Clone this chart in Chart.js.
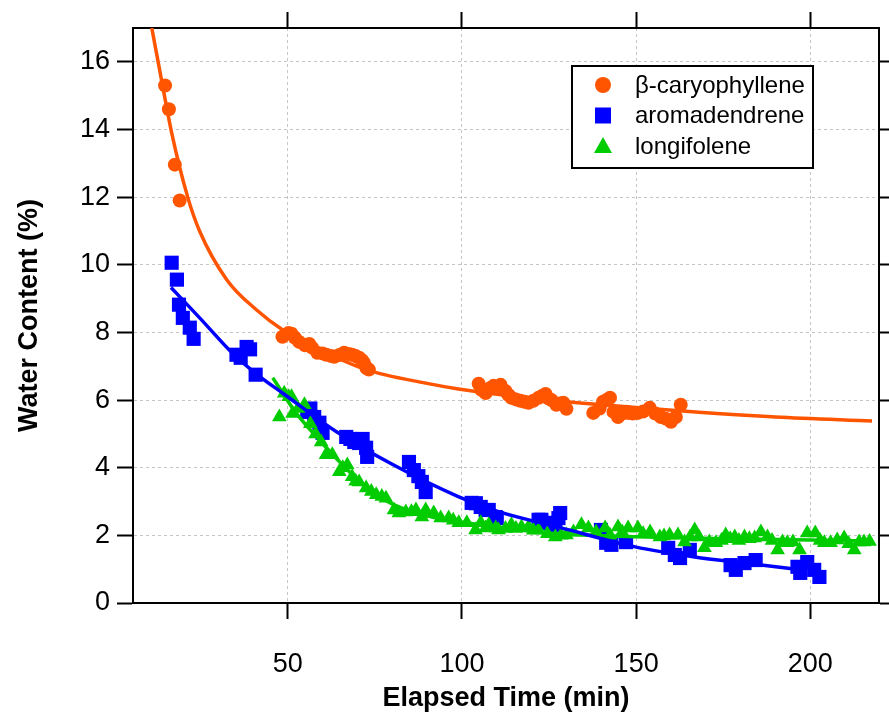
<!DOCTYPE html>
<html>
<head>
<meta charset="utf-8">
<script src="https://cdn.jsdelivr.net/npm/chart.js@4.4.1/dist/chart.umd.min.js"></script>
<style>
  html, body { margin: 0; padding: 0; background: #fff; overflow: hidden; }
  #wrap { width: 889px; height: 715px; position: relative; }
</style>
</head>
<body>
<div id="wrap"><canvas id="waterChart"></canvas></div>
<script>
const caryoX = [14.8, 15.9, 17.6, 19.0,
    48.5, 50.2, 51.1, 52.0, 53.3, 55.0, 56.2, 57.0, 58.5, 60.0, 61.1, 62.5, 63.4, 64.8, 66.2, 67.5, 68.5, 69.5, 70.5, 71.3, 71.9, 72.6, 73.3,
    104.8, 105.6, 106.8, 108.0, 109.1, 110.0, 111.1, 112.5, 113.4, 114.2, 115.5, 116.8, 118.0, 119.1, 120.5, 122.0, 123.0, 124.0, 124.8, 125.7, 127.1, 128.0, 129.1, 130.0,
    137.7, 139.5, 140.5, 141.5, 142.5, 143.5, 144.8, 146.0, 147.7, 149.0, 150.5, 152.0, 153.9, 155.5, 157.1, 158.5, 160.0, 161.4, 162.8];
const caryoY = [15.3, 14.6, 12.96, 11.9,
    7.87, 7.98, 7.96, 7.85, 7.72, 7.62, 7.66, 7.55, 7.4, 7.38, 7.34, 7.3, 7.28, 7.33, 7.4, 7.36, 7.34, 7.3, 7.25, 7.18, 7.1, 6.95, 6.9,
    6.48, 6.3, 6.21, 6.35, 6.42, 6.38, 6.45, 6.27, 6.15, 6.07, 6.02, 5.98, 5.95, 5.92, 5.98, 6.07, 6.12, 6.18, 6.05, 6.0, 5.86, 5.9, 5.92, 5.74,
    5.62, 5.75, 5.95, 6.0, 6.07, 5.65, 5.5, 5.6, 5.62, 5.6, 5.62, 5.66, 5.77, 5.6, 5.5, 5.45, 5.36, 5.5, 5.86];

const aromaX = [16.7, 18.2, 18.8, 19.9, 21.9, 23.0, 35.3, 36.5, 38.2, 39.2, 40.8,
    55.6, 56.5, 57.6, 59.1, 60.0, 66.8, 68.0, 69.1, 70.5, 71.5, 72.5, 72.8, 84.8, 86.2, 87.5, 88.5, 89.6,
    102.8, 104.0, 105.4, 106.8, 107.7, 109.7, 110.0, 122.0, 122.8, 123.9, 125.7, 126.8, 127.7, 128.2,
    139.9, 141.4, 142.9, 147.1, 159.2, 161.1, 162.6, 165.4, 177.1, 178.6, 181.1, 184.3, 196.3, 197.1, 199.1, 201.1, 202.6];
const aromaY = [10.06, 9.56, 8.82, 8.43, 8.14, 7.81, 7.34, 7.25, 7.57, 7.5, 6.75,
    5.65, 5.75, 5.5, 5.33, 5.03, 4.91, 4.85, 4.76, 4.73, 4.85, 4.59, 4.32, 4.17, 3.93, 3.75, 3.58, 3.28,
    2.96, 2.95, 2.84, 2.75, 2.75, 2.54, 2.51, 2.46, 2.46, 2.37, 2.34, 2.31, 2.51, 2.66,
    2.16, 1.78, 1.72, 1.8, 1.63, 1.42, 1.33, 1.57, 1.12, 0.98, 1.18, 1.27, 1.07, 0.89, 1.21, 0.98, 0.77];

const longiX = [47.6, 49.0, 50.3, 51.1, 51.4, 53.0, 54.8, 56.5, 58.0, 59.6, 61.0, 62.8, 64.8, 65.8, 67.1, 68.5, 69.5, 70.5, 72.5, 74.0,
    75.4, 77.0, 78.2, 80.5, 81.9, 83.9, 85.5, 86.8, 88.5, 89.6, 91.9, 93.9, 96.2, 97.5, 99.1, 101.4, 103.9, 105.4, 106.8, 107.7,
    109.7, 110.5, 112.5, 114.2, 115.5, 117.1, 119.1, 120.5, 122.0, 124.5, 126.8, 128.5, 130.0, 132.0, 134.3, 136.3, 138.5, 141.1, 142.5, 144.8,
    146.0, 147.7, 150.5, 152.0, 154.0, 156.8, 158.0, 159.6, 162.0, 163.9, 165.5, 166.8, 168.0, 169.6, 171.0, 172.9, 174.5, 175.7, 177.0, 178.3,
    179.5, 181.1, 182.5, 184.0, 185.8, 187.7, 189.0, 190.6, 192.0, 193.4, 195.0, 196.9, 199.1, 201.4, 202.8, 204.0, 205.8, 207.7, 209.7, 211.0,
    212.6, 214.0, 215.4, 217.0];
const longiY = [5.5, 6.2, 6.1, 6.1, 5.6, 5.75, 5.86, 5.3, 5.0, 4.76, 4.38, 4.38, 3.88, 4.0, 4.08, 3.73, 3.6, 3.58, 3.4, 3.3,
    3.2, 3.15, 3.1, 2.75, 2.66, 2.69, 2.7, 2.75, 2.54, 2.75, 2.66, 2.51, 2.51, 2.45, 2.37, 2.37, 2.16, 2.37, 2.22, 2.31,
    2.22, 2.16, 2.2, 2.31, 2.2, 2.25, 2.25, 2.15, 2.16, 2.05, 1.95, 2.0, 2.01, 2.1, 2.31, 2.22, 2.1, 2.22, 2.0, 2.25,
    2.1, 2.22, 2.22, 2.05, 2.1, 1.95, 1.98, 2.01, 2.01, 1.8, 1.95, 2.16, 1.95, 1.63, 1.8, 1.78, 1.85, 2.01, 1.9, 1.95,
    1.85, 1.95, 1.9, 1.92, 2.1, 1.95, 1.85, 1.57, 1.8, 1.78, 1.8, 1.57, 2.07, 2.07, 1.85, 1.78, 1.78, 1.86, 1.92, 1.75,
    1.57, 1.8, 1.8, 1.82];

// fitted curves
const caryoFitX = [11.0, 13.9, 16.7, 21.3, 24.7, 32.5, 41.0, 48.5, 60.0, 72.5, 89.6, 99.0, 125.0, 150.0, 168.0, 190.0, 217.7];
const caryoFitY = [17.0, 15.4, 13.9, 12.0, 11.0, 9.56, 8.67, 8.08, 7.45, 6.9, 6.5, 6.33, 6.0, 5.78, 5.64, 5.5, 5.38];
const aromaFitX = [16.5, 25.0, 34.0, 41.9, 48.5, 63.9, 80.0, 99.1, 110.5, 128.5, 149.7, 166.8, 181.1, 199.0];
const aromaFitY = [9.33, 8.4, 7.4, 6.70, 6.21, 5.07, 4.10, 3.14, 2.70, 2.22, 1.66, 1.36, 1.18, 0.96];
const longiFitX = [45.7, 52.4, 59.1, 65.6, 73.4, 81.9, 91.4, 101.1, 110.5, 123.9, 142.9, 171.4, 200.0, 217.1];
const longiFitY = [6.66, 5.62, 4.82, 4.10, 3.34, 2.84, 2.54, 2.37, 2.25, 2.07, 1.98, 1.91, 1.86, 1.83];

const seriesNames = ['\u03b2-caryophyllene', 'aromadendrene', 'longifolene'];
const seriesColors = ['#ff5500', '#0000ff', '#00cc00'];

const xTicks = [50, 100, 150, 200];
const yTicks = [0, 2, 4, 6, 8, 10, 12, 14, 16];

function toPoints(xs, ys) {
    return xs.map((x, i) => ({ x: x, y: ys[i] }));
}

// legend drawn inside the plot, like the original figure
const boxLegend = {
    id: 'boxLegend',
    afterDraw(chart) {
        const ctx = chart.ctx;
        const left = 572, top = 66, w = 241, h = 102;
        ctx.save();
        ctx.fillStyle = '#fff';
        ctx.fillRect(left, top, w, h);
        ctx.strokeStyle = '#000';
        ctx.lineWidth = 2;
        ctx.strokeRect(left, top, w, h);
        ctx.font = '24px "Liberation Sans", Arial, sans-serif';
        ctx.textBaseline = 'middle';
        const items = chart.data.datasets.filter(d => d.inLegend);
        items.forEach((ds, i) => {
            const cx = 603, cy = 85 + i * 30.5;
            ctx.fillStyle = ds.backgroundColor;
            ctx.beginPath();
            if (ds.pointStyle === 'circle') {
                ctx.arc(cx, cy, 8, 0, Math.PI * 2);
            } else if (ds.pointStyle === 'rect') {
                ctx.rect(cx - 8, cy - 8, 16, 16);
            } else {
                ctx.moveTo(cx, cy - 9);
                ctx.lineTo(cx + 9, cy + 7);
                ctx.lineTo(cx - 9, cy + 7);
                ctx.closePath();
            }
            ctx.fill();
            ctx.fillStyle = '#000';
            ctx.fillText(ds.label, 635, cy + 1);
        });
        ctx.restore();
    }
};

function fitLine(xs, ys, color) {
    return {
        type: 'line',
        label: '',
        data: toPoints(xs, ys),
        borderColor: color,
        backgroundColor: color,
        borderWidth: 3.5,
        pointRadius: 0,
        fill: false,
        cubicInterpolationMode: 'monotone',
        order: 0
    };
}

function scatterSet(label, xs, ys, color, style, radius, order) {
    return {
        type: 'scatter',
        label: label,
        inLegend: true,
        data: toPoints(xs, ys),
        backgroundColor: color,
        borderColor: color,
        borderWidth: 0,
        pointStyle: style,
        pointRadius: radius,
        pointHoverRadius: radius,
        order: order
    };
}

// fix the box sizes so the plot area sits where the original one does
function fixSize(w, h) {
    return (scale) => {
        if (w !== null) scale.width = w;
        if (h !== null) scale.height = h;
        scale.paddingLeft = 0;
        scale.paddingRight = 0;
        scale.paddingTop = 0;
        scale.paddingBottom = 0;
    };
}

const tickFont = { family: '"Liberation Sans", Arial, sans-serif', size: 27 };
const titleFont = { family: '"Liberation Sans", Arial, sans-serif', size: 27, weight: 'bold' };
const frameGrid = {
    drawOnChartArea: false,
    drawTicks: true,
    tickLength: 16,
    tickWidth: 2,
    tickColor: '#000'
};
const frameBorder = { display: true, color: '#000', width: 2 };

const ctx = document.getElementById('waterChart').getContext('2d');
new Chart(ctx, {
    data: {
        datasets: [
            scatterSet(seriesNames[0], caryoX, caryoY, seriesColors[0], 'circle', 7, 3),
            scatterSet(seriesNames[1], aromaX, aromaY, seriesColors[1], 'rect', 10, 2),
            scatterSet(seriesNames[2], longiX, longiY, seriesColors[2], 'triangle', 8.5, 1),
            fitLine(caryoFitX, caryoFitY, seriesColors[0]),
            fitLine(aromaFitX, aromaFitY, seriesColors[1]),
            fitLine(longiFitX, longiFitY, seriesColors[2])
        ]
    },
    options: {
        responsive: true,
        maintainAspectRatio: false,
        animation: false,
        layout: { padding: 0 },
        plugins: {
            legend: { display: false },
            tooltip: { enabled: false }
        },
        scales: {
            x: {
                type: 'linear',
                position: 'bottom',
                min: 5.6,
                max: 219.7,
                afterFit: fixSize(null, 112),
                afterBuildTicks: (scale) => { scale.ticks = xTicks.map(v => ({ value: v })); },
                ticks: { color: '#000', font: tickFont, padding: 29, maxRotation: 0 },
                grid: {
                    color: '#c4c4c4',
                    lineWidth: 1,
                    tickLength: 16,
                    tickWidth: 2,
                    tickColor: '#000'
                },
                border: { display: true, color: '#000', width: 2, dash: [3, 3] },
                title: {
                    display: true,
                    text: 'Elapsed Time (min)',
                    color: '#000',
                    font: titleFont,
                    padding: { top: 0, bottom: 0 }
                }
            },
            y: {
                type: 'linear',
                position: 'left',
                min: 0,
                max: 17,
                afterFit: fixSize(133, null),
                afterBuildTicks: (scale) => { scale.ticks = yTicks.map(v => ({ value: v })); },
                ticks: { color: '#000', font: tickFont, padding: 7 },
                grid: {
                    color: '#c4c4c4',
                    lineWidth: 1,
                    tickLength: 16,
                    tickWidth: 2,
                    tickColor: '#000'
                },
                border: { display: true, color: '#000', width: 2, dash: [3, 3] },
                title: {
                    display: true,
                    text: 'Water Content (%)',
                    color: '#000',
                    font: titleFont,
                    padding: { top: 13, bottom: 0 }
                }
            },
            x2: {
                type: 'linear',
                position: 'top',
                min: 5.6,
                max: 219.7,
                afterFit: fixSize(null, 28),
                afterBuildTicks: (scale) => { scale.ticks = xTicks.map(v => ({ value: v })); },
                ticks: { display: false },
                grid: frameGrid,
                border: frameBorder
            },
            y2: {
                type: 'linear',
                position: 'right',
                min: 0,
                max: 17,
                afterFit: fixSize(7, null),
                afterBuildTicks: (scale) => { scale.ticks = yTicks.map(v => ({ value: v })); },
                ticks: { display: false },
                grid: frameGrid,
                border: frameBorder
            }
        }
    },
    plugins: [boxLegend]
});
</script>
</body>
</html>
